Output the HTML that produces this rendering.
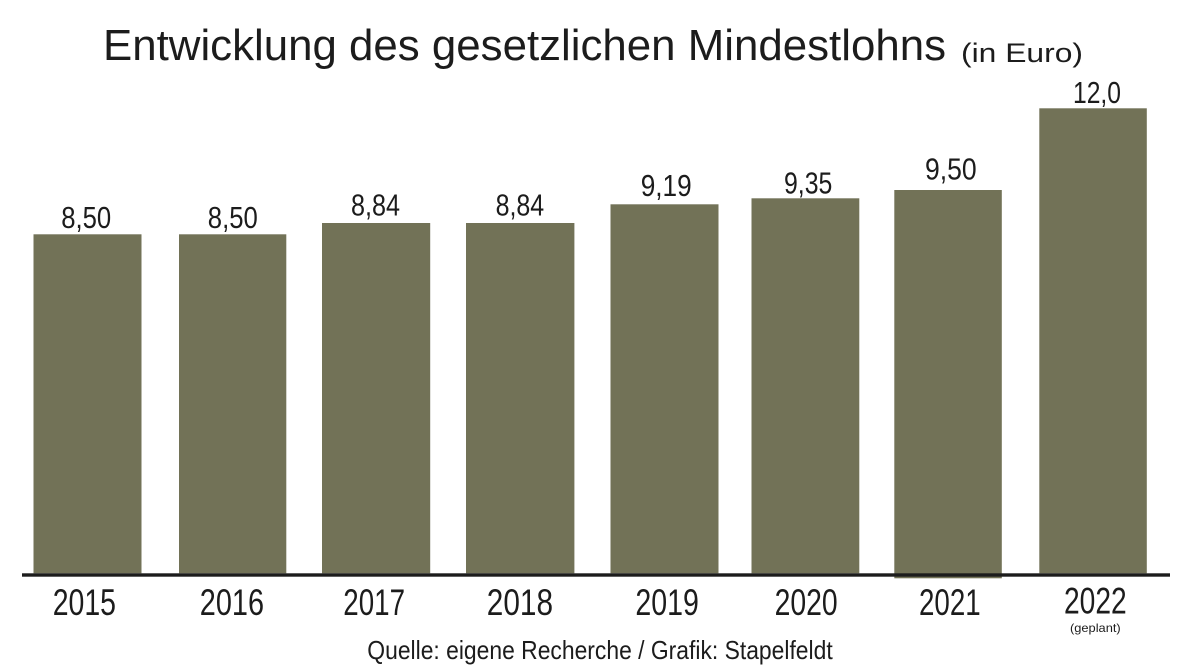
<!DOCTYPE html>
<html>
<head>
<meta charset="utf-8">
<style>
  html,body{margin:0;padding:0;background:#ffffff;}
  svg{display:block;}
  text{font-family:"Liberation Sans", Arial, sans-serif; fill:#1c1c1c;}
</style>
</head>
<body>
<svg width="1185" height="672" viewBox="0 0 1185 672" xmlns="http://www.w3.org/2000/svg">
  <rect x="0" y="0" width="1185" height="672" fill="#ffffff"/>

  <!-- Title -->
  <text x="103" y="60" font-size="43.5" textLength="843" lengthAdjust="spacingAndGlyphs">Entwicklung des gesetzlichen Mindestlohns</text>
  <text x="961" y="62" font-size="27" textLength="122" lengthAdjust="spacingAndGlyphs">(in Euro)</text>

  <!-- Bars -->
  <g fill="#727257">
    <rect x="33.5" y="234.3" width="108" height="339"/>
    <rect x="179" y="234.3" width="107.3" height="339"/>
    <rect x="322" y="223" width="108.2" height="350.3"/>
    <rect x="466" y="223" width="108.4" height="350.3"/>
    <rect x="610.5" y="204.3" width="108" height="369"/>
    <rect x="751.5" y="198.3" width="107.8" height="375"/>
    <rect x="894.3" y="190" width="107.5" height="388.3"/>
    <rect x="1039.3" y="108.3" width="107.5" height="465"/>
  </g>

  <!-- Axis line -->
  <rect x="22" y="573.3" width="1148" height="3.4" fill="#1c1c1c"/>

  <!-- Value labels -->
  <g font-size="31">
    <text x="61.2" y="228" textLength="50" lengthAdjust="spacingAndGlyphs">8,50</text>
    <text x="207.8" y="228" textLength="50" lengthAdjust="spacingAndGlyphs">8,50</text>
    <text x="351" y="215.5" textLength="49" lengthAdjust="spacingAndGlyphs">8,84</text>
    <text x="495.6" y="215.5" textLength="48.6" lengthAdjust="spacingAndGlyphs">8,84</text>
    <text x="640.7" y="196" textLength="51" lengthAdjust="spacingAndGlyphs">9,19</text>
    <text x="784" y="193.5" textLength="48.3" lengthAdjust="spacingAndGlyphs">9,35</text>
    <text x="925" y="179.4" textLength="51.7" lengthAdjust="spacingAndGlyphs">9,50</text>
    <text x="1073" y="102.8" textLength="48" lengthAdjust="spacingAndGlyphs">12,0</text>
  </g>

  <!-- Year labels -->
  <g font-size="37">
    <text x="52.7" y="615" textLength="63.3" lengthAdjust="spacingAndGlyphs">2015</text>
    <text x="199.8" y="615" textLength="64.2" lengthAdjust="spacingAndGlyphs">2016</text>
    <text x="343.3" y="615" textLength="61.7" lengthAdjust="spacingAndGlyphs">2017</text>
    <text x="486.8" y="615" textLength="66.2" lengthAdjust="spacingAndGlyphs">2018</text>
    <text x="635.4" y="615" textLength="63.5" lengthAdjust="spacingAndGlyphs">2019</text>
    <text x="774.6" y="615" textLength="63.1" lengthAdjust="spacingAndGlyphs">2020</text>
    <text x="919" y="615" textLength="61.7" lengthAdjust="spacingAndGlyphs">2021</text>
    <text x="1064" y="613.3" textLength="62.7" lengthAdjust="spacingAndGlyphs">2022</text>
  </g>
  <text x="1070" y="632" font-size="12" textLength="50.7" lengthAdjust="spacingAndGlyphs">(geplant)</text>

  <!-- Source -->
  <text x="367.3" y="659" font-size="26" textLength="465.4" lengthAdjust="spacingAndGlyphs">Quelle: eigene Recherche / Grafik: Stapelfeldt</text>
</svg>
</body>
</html>
